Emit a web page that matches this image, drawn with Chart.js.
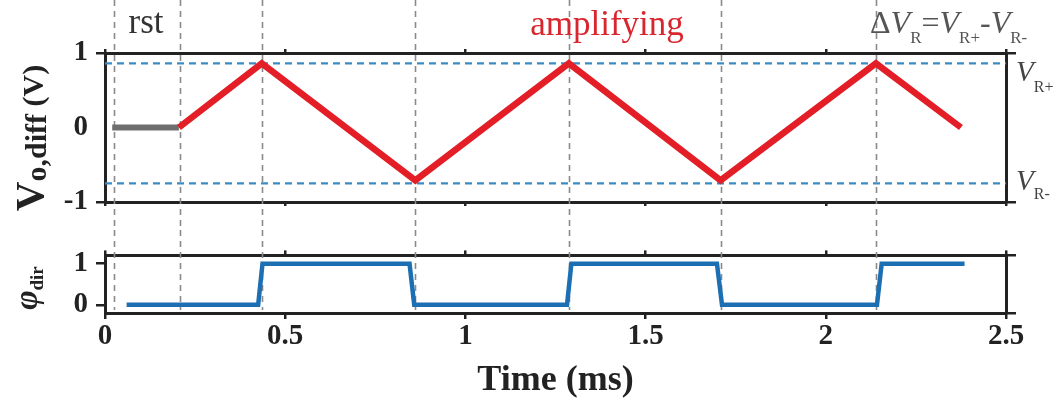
<!DOCTYPE html>
<html>
<head>
<meta charset="utf-8">
<script src="https://cdn.jsdelivr.net/npm/chart.js@4.4.1/dist/chart.umd.min.js"></script>
<style>
html,body{margin:0;padding:0;background:#fff;}
#wrap{position:relative;width:1058px;height:404px;overflow:hidden;font-family:'Liberation Serif',serif;}
canvas{position:absolute;left:0;}
#c1{top:0;}
#c2{top:230px;}
.lbl{position:absolute;white-space:nowrap;line-height:1;font-family:'Liberation Serif',serif;}
.lbl sub{vertical-align:baseline;position:relative;}
.rot{transform:translate(-50%,-50%) rotate(-90deg);}
</style>
</head>
<body>
<div id="wrap">
  <canvas id="c1" width="1058" height="230"></canvas>
  <canvas id="c2" width="1058" height="174"></canvas>

  <div class="lbl" style="font-size:35px;color:#333;left:146px;top:4px;transform:translateX(-50%);">rst</div>
  <div class="lbl" style="font-size:35px;color:#d9262e;left:607px;top:6px;transform:translateX(-50%);">amplifying</div>
  <div class="lbl" style="font-size:32px;color:#555;left:870px;top:6px;">Δ<i>V</i><sub style="font-size:17px;top:10px;">R</sub>=<i>V</i><sub style="font-size:17px;top:10px;">R+</sub>-<i>V</i><sub style="font-size:17px;top:10px;">R-</sub></div>
  <div class="lbl" style="font-size:29px;color:#444;left:1016px;top:57px;"><i>V</i><sub style="font-size:16px;top:11px;">R+</sub></div>
  <div class="lbl" style="font-size:29px;color:#444;left:1016px;top:166px;"><i>V</i><sub style="font-size:16px;top:9px;">R-</sub></div>

  <div class="lbl rot" style="font-size:41px;font-weight:bold;color:#222;left:29px;top:138px;">V<sub style="font-size:30px;top:3px;">o,diff</sub><span style="font-size:30px;"> (V)</span></div>
  <div class="lbl rot" style="font-size:33px;font-weight:bold;color:#222;left:26px;top:288px;"><i>φ</i><sub style="font-size:19px;top:6px;">dir</sub></div>
</div>

<script>
// ---------- data ----------
const timeTicks   = [0, 0.5, 1, 1.5, 2, 2.5];
const vTicks      = [-1, 0, 1];
const phiTicks    = [0, 1];

const rstTimes    = [0.02, 0.205];
const rstValues   = [0, 0];

const vTimes      = [0.205, 0.435, 0.861, 1.287, 1.708, 2.139, 2.375];
const vValues     = [0, 0.86, -0.71, 0.86, -0.71, 0.86, 0.0];

const phiTimes    = [0.06, 0.425, 0.437, 0.845, 0.858, 1.282, 1.294, 1.698, 1.712, 2.142, 2.155, 2.385];
const phiValues   = [0, 0, 1, 1, 0, 0, 1, 1, 0, 0, 1, 1];

const refSpan     = [0, 2.5];
const vrPlus      = 0.86;
const vrMinus     = -0.75;

const markerTimes = [0.025, 0.208, 0.435, 0.861, 1.287, 1.708, 2.139];

// ---------- helpers ----------
const FONT = "'Liberation Serif', serif";
Chart.defaults.font.family = FONT;
Chart.defaults.color = '#222';
const AXIS = '#222';
const pts = (xs, ys) => xs.map((x, i) => ({x: x, y: ys[i]}));
const setTicks = vals => s => { s.ticks = vals.map(v => ({value: v})); };
const fixW = w => s => { s.width = w; };
const fixH = h => s => { s.height = h; };
const plain = v => String(v);

function vlines(bottomFn) {
  return {
    id: 'vlines',
    beforeDatasetsDraw(chart) {
      const ctx = chart.ctx, xs = chart.scales.x;
      ctx.save();
      ctx.strokeStyle = '#8a8a8a';
      ctx.lineWidth = 1.6;
      ctx.setLineDash([6, 5]);
      markerTimes.forEach(t => {
        const px = Math.round(xs.getPixelForValue(t)) + 0.5;
        ctx.beginPath();
        ctx.moveTo(px, 0);
        ctx.lineTo(px, bottomFn(chart));
        ctx.stroke();
      });
      ctx.restore();
    }
  };
}

function xAxis(pos, tl, h, extra) {
  return Object.assign({
    type: 'linear', position: pos, min: 0, max: 2.5,
    afterBuildTicks: setTicks(timeTicks),
    ticks: {display: false},
    grid: {drawOnChartArea: false, tickLength: tl, color: AXIS, lineWidth: 2.5},
    border: {color: AXIS, width: 3},
    afterFit: fixH(h)
  }, extra || {});
}

const common = {
  responsive: false, animation: false, events: [],
  plugins: {legend: {display: false}, tooltip: {enabled: false}}
};

// ---------- top chart ----------
new Chart(document.getElementById('c1'), {
  type: 'line',
  data: {
    datasets: [
      {label: 'VR+', data: pts(refSpan, [vrPlus, vrPlus]), borderColor: '#3a8dc4', borderWidth: 2.2, borderDash: [7, 5], pointRadius: 0, order: 3},
      {label: 'VR-', data: pts(refSpan, [vrMinus, vrMinus]), borderColor: '#3a8dc4', borderWidth: 2.2, borderDash: [7, 5], pointRadius: 0, order: 3},
      {label: 'rst', data: pts(rstTimes, rstValues), borderColor: '#6e6e6e', borderWidth: 6, pointRadius: 0, order: 2},
      {label: 'Vo,diff', data: pts(vTimes, vValues), borderColor: '#e31e26', borderWidth: 6.5, pointRadius: 0, order: 1}
    ]
  },
  options: Object.assign({}, common, {
    layout: {padding: {top: 49, bottom: 22, left: 0, right: 0}},
    scales: {
      x: xAxis('bottom', 4, 6),
      xt: xAxis('top', 4, 4),
      y: {
        type: 'linear', position: 'left', min: -1, max: 1,
        afterBuildTicks: setTicks(vTicks),
        ticks: {font: {size: 29, weight: 'bold'}, color: '#222', padding: 8, callback: plain},
        grid: {drawOnChartArea: false, tickLength: 9, lineWidth: 2.5,
               color: c => (c.tick && c.tick.value === 0) ? 'rgba(0,0,0,0)' : AXIS},
        border: {color: AXIS, width: 3},
        afterFit: fixW(105)
      },
      yr: {
        type: 'linear', position: 'right', min: -1, max: 1,
        afterBuildTicks: setTicks([-1, 1]),
        ticks: {display: false},
        grid: {drawOnChartArea: false, tickLength: 10, lineWidth: 2.5, color: AXIS},
        border: {color: AXIS, width: 3},
        afterFit: fixW(52)
      }
    }
  }),
  plugins: [vlines(ch => ch.height)]
});

// ---------- bottom chart ----------
new Chart(document.getElementById('c2'), {
  type: 'line',
  data: {
    datasets: [
      {label: 'phi_dir', data: pts(phiTimes, phiValues), borderColor: '#1c6fb3', borderWidth: 4.5, pointRadius: 0}
    ]
  },
  options: Object.assign({}, common, {
    layout: {padding: {top: 17, bottom: 0, left: 0, right: 0}},
    scales: {
      x: xAxis('bottom', 6, 91, {
        ticks: {display: true, font: {size: 29, weight: 'bold'}, color: '#222', padding: 0, maxRotation: 0, callback: plain},
        title: {display: true, text: 'Time (ms)', font: {size: 36, weight: 'bold'}, color: '#222', padding: {top: 0, bottom: 2}}
      }),
      xt: xAxis('top', 5, 5),
      y: {
        type: 'linear', position: 'left', min: -0.2, max: 1.2,
        afterBuildTicks: setTicks(phiTicks),
        ticks: {font: {size: 29, weight: 'bold'}, color: '#222', padding: 8, callback: plain},
        grid: {drawOnChartArea: false, tickLength: 9, lineWidth: 2.5, color: AXIS},
        border: {color: AXIS, width: 3},
        afterFit: fixW(105)
      },
      yr: {
        type: 'linear', position: 'right', min: -0.2, max: 1.2,
        afterBuildTicks: setTicks([-0.2, 1.2]),
        ticks: {display: false},
        grid: {drawOnChartArea: false, tickLength: 10, lineWidth: 2.5, color: AXIS},
        border: {color: AXIS, width: 3},
        afterFit: fixW(52)
      }
    }
  }),
  plugins: [vlines(ch => ch.chartArea.bottom - 3)]
});
</script>
</body>
</html>
